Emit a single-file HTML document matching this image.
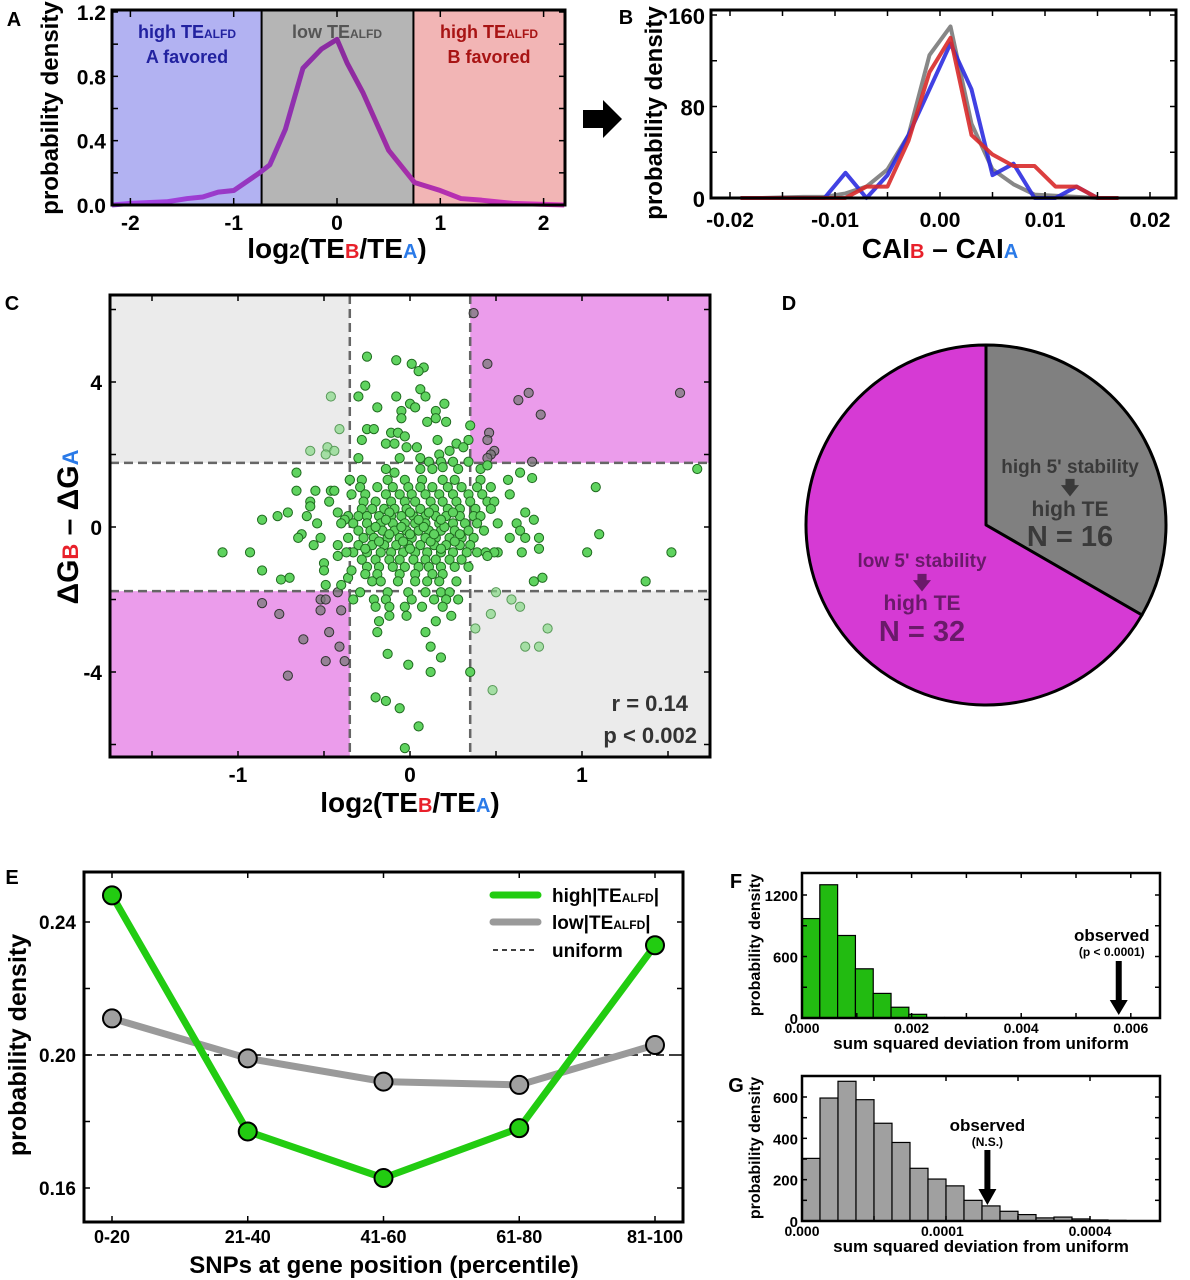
<!DOCTYPE html>
<html><head><meta charset="utf-8">
<style>
html,body{margin:0;padding:0;background:#fff;}
svg{display:block;font-family:"Liberation Sans",Arial,sans-serif;font-weight:bold;}
</style></head>
<body>
<svg id="fig" xmlns="http://www.w3.org/2000/svg" width="1190" height="1280" viewBox="0 0 1190 1280">
<defs>
<linearGradient id="gradA" gradientUnits="userSpaceOnUse" x1="112" y1="0" x2="565" y2="0">
<stop offset="0" stop-color="#a848f0"/><stop offset="0.5" stop-color="#8a2a9e"/><stop offset="1" stop-color="#e236c4"/>
</linearGradient>
</defs>
<g id="panelA"></g>
<g id="panelB"></g>
<g id="panelC"></g>
<g id="panelD"></g>
<g id="panelE"></g>
<g id="panelF"></g>
<g id="panelG"></g>
</svg>
<script>
// ---------- Panel A data ----------
const aX = [-2.2,-2.0,-1.65,-1.45,-1.3,-1.15,-1.0,-0.75,-0.65,-0.5,-0.33,-0.15,0.0,0.1,0.25,0.5,0.75,1.0,1.2,1.4,1.7,2.2];
const aY = [0.0,0.01,0.02,0.04,0.05,0.08,0.09,0.2,0.25,0.47,0.85,0.97,1.03,0.88,0.7,0.34,0.14,0.09,0.04,0.03,0.01,0.0];
const aThresh = [-0.73,0.74];
const aYTicks = [0,0.4,0.8,1.2];
const aYTickLabels = ["0.0","0.4","0.8","1.2"];
const aXTicks = [-2,-1,0,1,2];
// ---------- Panel B data ----------
const bX = [-0.019,-0.017,-0.015,-0.013,-0.011,-0.009,-0.007,-0.005,-0.003,-0.001,0.001,0.003,0.005,0.007,0.009,0.011,0.013,0.015,0.017];
const bGray = [0,0,0.5,1,1,4,10,25,55,125,150,65,25,12,3,2,1,0,0];
const bBlue = [0,0,0,0,0,22,0,20,55,95,135,95,20,30,0,0,10,0,0];
const bRed = [0,0,0,0,0,0,10,10,50,110,140,55,38,28,28,10,10,0,0];
const bYTicks = [0,80,160];
const bXTicks = [-0.02,-0.01,0,0.01,0.02];
const bXTickLabels = ["-0.02","-0.01","0.00","0.01","0.02"];
// ---------- Panel C data ----------
const cRowY = [1.3,1.1,0.9,0.7,0.5,0.3,0.1,-0.1,-0.3,-0.5,-0.7,-0.9,-1.1,-1.3,-1.5,-1.8,-2.0,-2.2,-2.45,-2.6,-2.9,0.0,0.4,-0.4,-0.6,0.2,-0.2];
const cRowX = [
[-0.35,-0.28,-0.13,-0.03,0.07,0.19,0.26,0.41],
[-0.29,-0.19,-0.10,-0.01,0.06,0.13,0.22,0.30,0.39,0.47],
[-0.34,-0.26,-0.14,-0.06,0.01,0.09,0.17,0.25,0.34,0.42],
[-0.27,-0.20,-0.11,-0.03,0.03,0.12,0.19,0.27,0.35,0.45,0.49],
[-0.28,-0.22,-0.15,-0.09,-0.02,0.06,0.14,0.22,0.29,0.38,0.47],
[-0.36,-0.30,-0.25,-0.18,-0.11,-0.05,0.02,0.09,0.15,0.21,0.29,0.37,0.41],
[-0.33,-0.25,-0.17,-0.10,-0.03,0.03,0.09,0.17,0.25,0.32,0.39,0.51],
[-0.30,-0.23,-0.16,-0.09,-0.02,0.05,0.11,0.18,0.26,0.34,0.43],
[-0.36,-0.27,-0.21,-0.13,-0.06,0.01,0.09,0.15,0.23,0.30,0.37],
[-0.30,-0.22,-0.15,-0.08,-0.01,0.06,0.14,0.21,0.29,0.35],
[-0.33,-0.25,-0.17,-0.11,-0.04,0.03,0.10,0.18,0.25,0.33,0.39],
[-0.28,-0.20,-0.12,-0.06,0.02,0.09,0.15,0.23,0.30],
[-0.25,-0.18,-0.10,-0.03,0.05,0.11,0.18,0.26,0.34],
[-0.26,-0.19,-0.06,0.03,0.13,0.19],
[-0.22,-0.17,-0.07,0.03,0.10,0.17,0.27],
[-0.29,-0.13,-0.01,0.09,0.18,0.23],
[-0.33,-0.21,-0.14,0.01,0.14,0.21,0.28],
[-0.20,-0.12,-0.03,0.07,0.19],
[-0.12,-0.02,0.24],
[-0.18,0.15],
[-0.19,0.09],
[-0.2,-0.05,0.08,0.2],
[-0.12,0.0,0.11,0.25],
[-0.18,-0.04,0.12,0.26],
[-0.26,0.0,0.18],
[-0.14,0.05,0.18],
[-0.12,0.0,0.14,0.29]
];
const cExtraX = [0.37,0.45,0.63,0.69,0.76,1.57,0.46,0.45,0.49,0.47,0.45,0.71,
-0.46,-0.41,-0.58,-0.48,-0.44,-0.49,
-0.86,-0.76,-0.62,-0.71,-0.49,-0.38,-0.47,-0.41,-0.52,-0.52,-0.42,-0.49,-0.40,
0.50,0.59,0.64,0.47,0.38,0.80,0.67,0.75,0.48,0.35,
1.67,1.08,1.10,1.03,1.52,1.37,0.72,0.75,0.75,0.77,0.72,0.71,0.57,0.64,0.58,0.67,0.62,0.64,0.67,0.58,0.65,0.51,0.49,0.44,0.45,
-1.09,-0.93,-0.86,-0.77,-0.71,-0.86,-0.75,-0.70,-0.66,-0.66,-0.55,-0.46,-0.44,-0.58,-0.47,-0.58,-0.60,-0.54,-0.42,-0.38,-0.40,-0.63,-0.65,-0.52,-0.56,-0.42,-0.42,-0.50,-0.50,-0.49,-0.40,-0.36,-0.34,-0.37,-0.35,
-0.25,-0.08,0.01,0.08,0.05,-0.26,-0.30,-0.08,0.06,0.09,0.0,0.03,-0.19,-0.05,-0.05,0.10,0.15,0.15,0.20,0.21,-0.25,-0.21,-0.11,-0.07,-0.03,-0.28,-0.14,-0.09,0.16,0.27,0.34,0.35,-0.02,0.04,0.31,0.23,0.17,-0.06,0.06,-0.30,0.11,0.18,0.25,0.34,0.06,-0.14,-0.09,0.13,0.19,0.28,0.41,0.45,
0.12,-0.13,0.18,-0.01,0.12,-0.20,-0.14,-0.06,0.05,-0.03];
const cExtraY = [5.9,4.5,3.5,3.7,3.1,3.7,2.6,2.4,2.1,2.0,1.9,1.8,
3.6,2.7,2.1,2.2,2.1,2.0,
-2.1,-2.4,-3.1,-4.1,-3.7,-3.7,-2.9,-3.3,-2.3,-2.0,-1.8,-2.0,-2.3,
-1.8,-2.0,-2.2,-2.4,-2.8,-2.8,-3.3,-3.3,-4.5,-4.0,
1.6,1.1,-0.2,-0.7,-0.7,-1.5,0.2,-0.3,-0.6,-1.4,-1.5,1.35,1.3,1.5,0.9,0.4,0.1,-0.1,-0.3,-0.3,-0.7,-0.7,-0.7,-0.7,-0.8,
-0.7,-0.7,0.2,0.3,0.4,-1.2,-1.45,-1.4,1.5,1.0,1.0,1.0,1.0,0.7,0.7,0.57,0.3,0.1,0.4,0.2,0.1,-0.2,-0.3,-0.3,-0.5,-0.5,-0.8,-1.0,-1.2,-1.6,-1.6,-1.4,-1.2,-0.7,1.3,
4.7,4.6,4.5,4.4,4.3,3.9,3.6,3.6,3.8,3.6,3.4,3.3,3.3,3.2,3.0,2.9,3.2,3.0,3.4,2.9,2.7,2.7,2.6,2.6,2.5,2.4,2.3,2.3,2.4,2.3,2.4,2.8,2.2,2.2,2.2,2.1,2.0,1.9,1.9,1.9,1.8,1.8,1.8,1.8,1.6,1.6,1.5,1.6,1.65,1.6,1.6,1.7,
-3.3,-3.5,-3.6,-3.8,-4.0,-4.7,-4.8,-5.0,-5.5,-6.1];
const cThreshX = [-0.35,0.35];
const cThreshY = [-1.77,1.77];
const cXTicks = [-1,0,1];
const cYTicks = [-4,0,4];
// ---------- Panel D data ----------
const dLabels = ["high 5' stability → high TE","low 5' stability → high TE"];
const dCounts = [16,32];
// ---------- Panel E data ----------
const eCats = ["0-20","21-40","41-60","61-80","81-100"];
const eHigh = [0.248,0.177,0.163,0.178,0.233];
const eLow = [0.211,0.199,0.192,0.191,0.203];
const eUniform = [0.2];
const eYTicks = [0.16,0.20,0.24];
// ---------- Panel F data ----------
const fBinWidth = [0.000325];
const fHeights = [970,1300,805,480,240,105,36,5,5,3,2,0,0,0,0,0,0,0,0,0];
const fObserved = [0.00578];
const fXTicks = [0,0.002,0.004,0.006];
const fXTickLabels = ["0.000","0.002","0.004","0.006"];
const fYTicks = [0,600,1200];
// ---------- Panel G data ----------
const gHeights = [303,595,676,587,473,380,255,203,170,100,73,47,31,15,19,10,5,3];
const gObservedBin = [10.3];
const gXTickBins = [0,7.8,16];
const gXTickLabels = ["0.000","0.0001","0.0004"];
const gYTicks = [0,200,400,600];

// ---------- helpers ----------
const NS = "http://www.w3.org/2000/svg";
function mk(parent, tag, attrs, text){
  const e = document.createElementNS(NS, tag);
  for (const k in attrs) e.setAttribute(k, attrs[k]);
  if (text !== undefined) e.textContent = text;
  parent.appendChild(e);
  return e;
}
function lin(d0,d1,r0,r1){ return v => r0 + (v-d0)/(d1-d0)*(r1-r0); }
function txt(parent, name, x, y, size, content, opts){
  opts = opts || {};
  const t = mk(parent, "text", {x:x, y:y, "font-size":size, "text-anchor":opts.anchor||"middle", fill:opts.fill||"#000"});
  if (opts.rotate) t.setAttribute("transform", "rotate(-90 "+x+" "+y+")");
  if (opts.spans){
    opts.spans.forEach(s=>{
      const sp = mk(t, "tspan", {fill:s.fill||opts.fill||"#000"}, s.t);
      if (s.size) sp.setAttribute("font-size", s.size);
      if (s.dy) sp.setAttribute("dy", s.dy);
    });
  } else t.textContent = content;
  
  
  return t;
}
function frame(parent, name, x0,y0,x1,y1, w){
  const r = mk(parent, "rect", {x:x0, y:y0, width:x1-x0, height:y1-y0, fill:"none", stroke:"#000", "stroke-width":w||3});
  
  
}
function ticksX(parent, xs, sx, y0, y1, len){
  xs.forEach(v=>{
    const t1 = mk(parent,"line",{x1:sx(v),x2:sx(v),y1:y1,y2:y1-len,stroke:"#000","stroke-width":1.5});
    
    
    const t2 = mk(parent,"line",{x1:sx(v),x2:sx(v),y1:y0,y2:y0+len,stroke:"#000","stroke-width":1.5});
    
    
  });
}
function ticksY(parent, ys, sy, x0, x1, len){
  ys.forEach(v=>{
    const t1 = mk(parent,"line",{x1:x0,x2:x0+len,y1:sy(v),y2:sy(v),stroke:"#000","stroke-width":1.5});
    
    
    const t2 = mk(parent,"line",{x1:x1,x2:x1-len,y1:sy(v),y2:sy(v),stroke:"#000","stroke-width":1.5});
    
    
  });
}

// ---------- Panel A ----------
(function(){
  const g = document.getElementById("panelA");
  const X0=112,X1=565,Y0=10,Y1=205;
  const sx = lin(0,1,337,440.3), sy = lin(0,1.2,205,12);
  const regs = [[X0,sx(aThresh[0]),"#b2b2f2","region-a-favored"],[sx(aThresh[0]),sx(aThresh[1]),"#b5b5b5","region-low"],[sx(aThresh[1]),X1,"#f2b5b5","region-b-favored"]];
  regs.forEach(r=>{
    const e = mk(g,"rect",{x:r[0],y:Y0,width:r[1]-r[0],height:Y1-Y0,fill:r[2]});
    
    
  });
  aThresh.forEach(t=>{
    const l = mk(g,"line",{x1:sx(t),x2:sx(t),y1:Y0,y2:Y1,stroke:"#000","stroke-width":2});
    
    
  });
  const pts = aX.map((x,i)=>Math.max(X0,Math.min(X1,sx(x)))+","+sy(aY[i])).join(" ");
  const pl = mk(g,"polyline",{points:pts,fill:"none",stroke:"url(#gradA)","stroke-width":5,"stroke-linejoin":"round"});
  
  
  frame(g,"plot-frame",X0,Y0,X1,Y1,3);
  ticksX(g,aXTicks,sx,Y0,Y1,7); ticksY(g,aYTicks.concat([0.2,0.6,1.0]),sy,X0,X1,6);
  aYTicks.forEach((v,i)=>txt(g,"y-tick-label",106,sy(v)+8,21,aYTickLabels[i],{anchor:"end"}));
  aXTicks.forEach(v=>txt(g,"x-tick-label",sx(v),230,21,String(v)));
  txt(g,"y-axis-title",58,108,24,"probability density",{rotate:true});
  txt(g,"x-axis-title",337,258,28,"",{spans:[{t:"log"},{t:"2",size:19},{t:"(TE"},{t:"B",fill:"#e8202a",size:20},{t:"/TE"},{t:"A",fill:"#2a7ae8",size:20},{t:")"}]});
  txt(g,"label-a-favored",187,38,18,"",{fill:"#2222a0",spans:[{t:"high TE"},{t:"ALFD",size:12}]});
  txt(g,"label-a-favored-2",187,63,18,"A favored",{fill:"#2222a0"});
  txt(g,"label-low",337,38,18,"",{fill:"#555",spans:[{t:"low TE"},{t:"ALFD",size:12}]});
  txt(g,"label-b-favored",489,38,18,"",{fill:"#a81414",spans:[{t:"high TE"},{t:"ALFD",size:12}]});
  txt(g,"label-b-favored-2",489,63,18,"B favored",{fill:"#a81414"});
  txt(g,"panel-letter",14,26,20,"A");
  const ar = mk(g,"polygon",{points:"583,110 603,110 603,100 622,119 603,138 603,128 583,128",fill:"#000"});
  
  
})();

// ---------- Panel B ----------
(function(){
  const g = document.getElementById("panelB");
  const X0=711,X1=1176,Y0=10,Y1=198;
  const sx = lin(0,0.01,940,1045), sy = lin(0,160,198,15);
  const series = [[bGray,"#7a7a7a","gray-series"],[bBlue,"#2c2ce0","blue-series"],[bRed,"#d82a2a","red-series"]];
  series.forEach(s=>{
    const pts = bX.map((x,i)=>sx(x)+","+sy(s[0][i])).join(" ");
    const p = mk(g,"polyline",{points:pts,fill:"none",stroke:s[1],"stroke-width":4,"stroke-opacity":0.9,"stroke-linejoin":"round"});
    
    
  });
  frame(g,"plot-frame",X0,Y0,X1,Y1,3);
  ticksX(g,[-0.02,-0.015,-0.01,-0.005,0,0.005,0.01,0.015,0.02],sx,Y0,Y1,6);
  ticksY(g,[0,40,80,120,160],sy,X0,X1,6);
  bYTicks.forEach(v=>txt(g,"y-tick-label",705,sy(v)+9,22,String(v),{anchor:"end"}));
  bXTicks.forEach((v,i)=>txt(g,"x-tick-label",sx(v),227,21,bXTickLabels[i]));
  txt(g,"y-axis-title",662,113,24,"probability density",{rotate:true});
  txt(g,"x-axis-title",940,258,28,"",{spans:[{t:"CAI"},{t:"B",fill:"#e8202a",size:20},{t:" – CAI"},{t:"A",fill:"#2a7ae8",size:20}]});
  txt(g,"panel-letter",626,24,20,"B");
})();

// ---------- Panel C ----------
(function(){
  const g = document.getElementById("panelC");
  const X0=110,X1=710,Y0=295,Y1=757;
  const sx = lin(0,1,410,582), sy = lin(0,4,527,382);
  const qx0=sx(cThreshX[0]), qx1=sx(cThreshX[1]), qy0=sy(cThreshY[1]), qy1=sy(cThreshY[0]);
  const regs=[[X0,Y0,qx0,qy0,"#ebebeb","quadrant-top-left"],[qx1,Y0,X1,qy0,"#eb9ceb","quadrant-top-right"],[X0,qy1,qx0,Y1,"#eb9ceb","quadrant-bottom-left"],[qx1,qy1,X1,Y1,"#ebebeb","quadrant-bottom-right"]];
  regs.forEach(r=>{
    const e=mk(g,"rect",{x:r[0],y:r[1],width:r[2]-r[0],height:r[3]-r[1],fill:r[4]});
    
    
  });
  cThreshX.forEach(t=>{
    const l=mk(g,"line",{x1:sx(t),x2:sx(t),y1:Y0,y2:Y1,stroke:"#666","stroke-width":2.5,"stroke-dasharray":"9,5"});
    
    
  });
  cThreshY.forEach(t=>{
    const l=mk(g,"line",{x1:X0,x2:X1,y1:sy(t),y2:sy(t),stroke:"#666","stroke-width":2.5,"stroke-dasharray":"9,5"});
    
    
  });
  const pts=[];
  cRowY.forEach((y,i)=>cRowX[i].forEach(x=>pts.push([x,y])));
  cExtraX.forEach((x,i)=>pts.push([x,cExtraY[i]]));
  pts.forEach(p=>{
    const x=p[0], y=p[1];
    let fill="#5fd35f", stroke="#1f6b1f", op=1;
    const ax=Math.abs(x)>cThreshX[1], ay=Math.abs(y)>cThreshY[1];
    if (ax && ay && x*y>0){ fill="#7a7a7a"; stroke="#333"; op=0.75; }
    else if (ax && ay){ fill="#86d886"; stroke="#5a9a5a"; op=0.7; }
    const c=mk(g,"circle",{cx:sx(x),cy:sy(y),r:4.6,fill:fill,stroke:stroke,"stroke-width":1,"fill-opacity":op});
    
    
  });
  frame(g,"plot-frame",X0,Y0,X1,Y1,3);
  ticksX(g,[-1.5,-1,-0.5,0,0.5,1,1.5],sx,Y0,Y1,6);
  ticksY(g,[-6,-4,-2,0,2,4,6],sy,X0,X1,6);
  cXTicks.forEach(v=>txt(g,"x-tick-label",sx(v),782,21,String(v)));
  cYTicks.forEach(v=>txt(g,"y-tick-label",102,sy(v)+8,21,String(v),{anchor:"end"}));
  txt(g,"y-axis-title",78,527,30,"",{rotate:true,spans:[{t:"ΔG"},{t:"B",fill:"#e8202a",size:22},{t:" – ΔG"},{t:"A",fill:"#2a7ae8",size:22}]});
  txt(g,"x-axis-title",410,812,28,"",{spans:[{t:"log"},{t:"2",size:19},{t:"(TE"},{t:"B",fill:"#e8202a",size:20},{t:"/TE"},{t:"A",fill:"#2a7ae8",size:20},{t:")"}]});
  txt(g,"correlation-r",688,711,22,"r = 0.14",{anchor:"end",fill:"#333"});
  txt(g,"correlation-p",697,743,22,"p < 0.002",{anchor:"end",fill:"#333"});
  txt(g,"panel-letter",12,310,20,"C");
})();

// ---------- Panel D ----------
(function(){
  const g=document.getElementById("panelD");
  const cx=986, cy=525, R=180;
  const total=dCounts[0]+dCounts[1];
  const a1=dCounts[0]/total*2*Math.PI;
  const ex=cx+R*Math.sin(a1), ey=cy-R*Math.cos(a1);
  const large1 = a1>Math.PI?1:0;
  const s1=mk(g,"path",{d:`M${cx},${cy} L${cx},${cy-R} A${R},${R} 0 ${large1} 1 ${ex},${ey} Z`,fill:"#808080",stroke:"#000","stroke-width":3,"stroke-linejoin":"round"});
  
  
  const s2=mk(g,"path",{d:`M${cx},${cy} L${ex},${ey} A${R},${R} 0 ${1-large1} 1 ${cx},${cy-R} Z`,fill:"#d63ad4",stroke:"#000","stroke-width":3,"stroke-linejoin":"round"});
  
  
  txt(g,"slice-label-high-1",1070,473,19,"high 5' stability",{fill:"#3a3a3a"});
  txt(g,"slice-label-high-arrow",1070,494,18,"🡇",{fill:"#3a3a3a"});
  txt(g,"slice-label-high-2",1070,516,21,"high TE",{fill:"#3a3a3a"});
  txt(g,"slice-count-high",1070,546,29,"N = "+dCounts[0],{fill:"#3a3a3a"});
  txt(g,"slice-label-low-1",922,567,19,"low 5' stability",{fill:"#6a1a6a"});
  txt(g,"slice-label-low-arrow",922,589,18,"🡇",{fill:"#6a1a6a"});
  txt(g,"slice-label-low-2",922,610,21,"high TE",{fill:"#6a1a6a"});
  txt(g,"slice-count-low",922,641,29,"N = "+dCounts[1],{fill:"#6a1a6a"});
  txt(g,"panel-letter",789,310,20,"D");
})();

// ---------- Panel E ----------
(function(){
  const g=document.getElementById("panelE");
  const X0=84,X1=683,Y0=872,Y1=1222;
  const sx = i => 112 + i*(655-112)/(eCats.length-1);
  const sy = lin(0.20,0.24,1055,922);
  const u=mk(g,"line",{x1:X0,x2:X1,y1:sy(eUniform[0]),y2:sy(eUniform[0]),stroke:"#000","stroke-width":1.5,"stroke-dasharray":"8,5"});
  
  
  [[eLow,"#9a9a9a","#a0a0a0","low-series"],[eHigh,"#22cc11","#22cc11","high-series"]].forEach(s=>{
    const pts=s[0].map((v,i)=>sx(i)+","+sy(v)).join(" ");
    const p=mk(g,"polyline",{points:pts,fill:"none",stroke:s[1],"stroke-width":7,"stroke-linejoin":"round"});
    
    
    s[0].forEach((v,i)=>{
      const c=mk(g,"circle",{cx:sx(i),cy:sy(v),r:9,fill:s[2],stroke:"#000","stroke-width":2});
      
      
    });
  });
  frame(g,"plot-frame",X0,Y0,X1,Y1,3);
  ticksX(g,[0,1,2,3,4],sx,Y0,Y1,6);
  ticksY(g,[0.16,0.18,0.20,0.22,0.24],sy,X0,X1,6);
  eCats.forEach((c,i)=>txt(g,"x-tick-label",sx(i),1243,18,c));
  eYTicks.forEach(v=>txt(g,"y-tick-label",76,sy(v)+7,19,v.toFixed(2),{anchor:"end"}));
  txt(g,"y-axis-title",26,1045,25,"probability density",{rotate:true});
  txt(g,"x-axis-title",384,1273,24,"SNPs at gene position (percentile)");
  const l1=mk(g,"line",{x1:493,x2:538,y1:895,y2:895,stroke:"#22cc11","stroke-width":7,"stroke-linecap":"round"});
   
  const l2=mk(g,"line",{x1:493,x2:538,y1:922,y2:922,stroke:"#9a9a9a","stroke-width":7,"stroke-linecap":"round"});
   
  const l3=mk(g,"line",{x1:493,x2:538,y1:950,y2:950,stroke:"#000","stroke-width":1.5,"stroke-dasharray":"5,4"});
   
  txt(g,"legend-high-label",552,902,19,"",{anchor:"start",spans:[{t:"high|TE"},{t:"ALFD",size:12},{t:"|"}]});
  txt(g,"legend-low-label",552,929,19,"",{anchor:"start",spans:[{t:"low|TE"},{t:"ALFD",size:12},{t:"|"}]});
  txt(g,"legend-uniform-label",552,957,19,"uniform",{anchor:"start"});
  txt(g,"panel-letter",12,884,20,"E");
})();

// ---------- Panel F ----------
(function(){
  const g=document.getElementById("panelF");
  const X0=802,X1=1160,Y0=873,Y1=1018;
  const sx=lin(0,0.001,802,856.8), sy=lin(0,600,1018,956.5);
  fHeights.forEach((h,i)=>{
    if (h<=0) return;
    const x0=sx(i*fBinWidth[0]), x1=sx((i+1)*fBinWidth[0]);
    const r=mk(g,"rect",{x:x0,y:sy(h),width:x1-x0,height:Y1-sy(h),fill:"#22bb11",stroke:"#000","stroke-width":1.2});
    
    
  });
  frame(g,"plot-frame",X0,Y0,X1,Y1,2.5);
  ticksX(g,[0,0.001,0.002,0.003,0.004,0.005,0.006],sx,Y0,Y1,5);
  ticksY(g,[0,300,600,900,1200],sy,X0,X1,5);
  fXTicks.forEach((v,i)=>txt(g,"x-tick-label",sx(v),1033,14,fXTickLabels[i]));
  fYTicks.forEach(v=>txt(g,"y-tick-label",798,sy(v)+6,15,String(v),{anchor:"end"}));
  txt(g,"y-axis-title",760,945,16,"probability density",{rotate:true});
  txt(g,"x-axis-title",981,1049,17,"sum squared deviation from uniform");
  const ax=sx(fObserved[0]);
  const a=mk(g,"polygon",{points:`${ax-3},961 ${ax+3},961 ${ax+3},1000 ${ax+9},1000 ${ax},1015 ${ax-9},1000 ${ax-3},1000`,fill:"#000"});
   
  txt(g,"observed-label",ax-7,941,17,"observed");
  txt(g,"observed-pvalue",ax-7,956,12,"(p < 0.0001)");
  txt(g,"panel-letter",736,888,20,"F");
})();

// ---------- Panel G ----------
(function(){
  const g=document.getElementById("panelG");
  const X0=802,X1=1160,Y0=1076,Y1=1221;
  const sx=lin(0,1,802,820), sy=lin(0,600,1221,1097);
  gHeights.forEach((h,i)=>{
    const r=mk(g,"rect",{x:sx(i),y:sy(h),width:sx(i+1)-sx(i),height:Y1-sy(h),fill:"#a0a0a0",stroke:"#000","stroke-width":1.2});
    
    
  });
  frame(g,"plot-frame",X0,Y0,X1,Y1,2.5);
  ticksX(g,[0,4,8,12,16],sx,Y0,Y1,5);
  ticksY(g,[0,100,200,300,400,500,600],sy,X0,X1,5);
  gXTickBins.forEach((v,i)=>txt(g,"x-tick-label",sx(v),1236,14,gXTickLabels[i]));
  gYTicks.forEach(v=>txt(g,"y-tick-label",798,sy(v)+6,15,String(v),{anchor:"end"}));
  txt(g,"y-axis-title",760,1148,16,"probability density",{rotate:true});
  txt(g,"x-axis-title",981,1252,17,"sum squared deviation from uniform");
  const ax=sx(gObservedBin[0]);
  const a=mk(g,"polygon",{points:`${ax-3},1150 ${ax+3},1150 ${ax+3},1189 ${ax+9},1189 ${ax},1205 ${ax-9},1189 ${ax-3},1189`,fill:"#000"});
   
  txt(g,"observed-label",ax,1131,17,"observed");
  txt(g,"observed-ns",ax,1146,12,"(N.S.)");
  txt(g,"panel-letter",736,1092,20,"G");
})();
</script>
</body></html>
